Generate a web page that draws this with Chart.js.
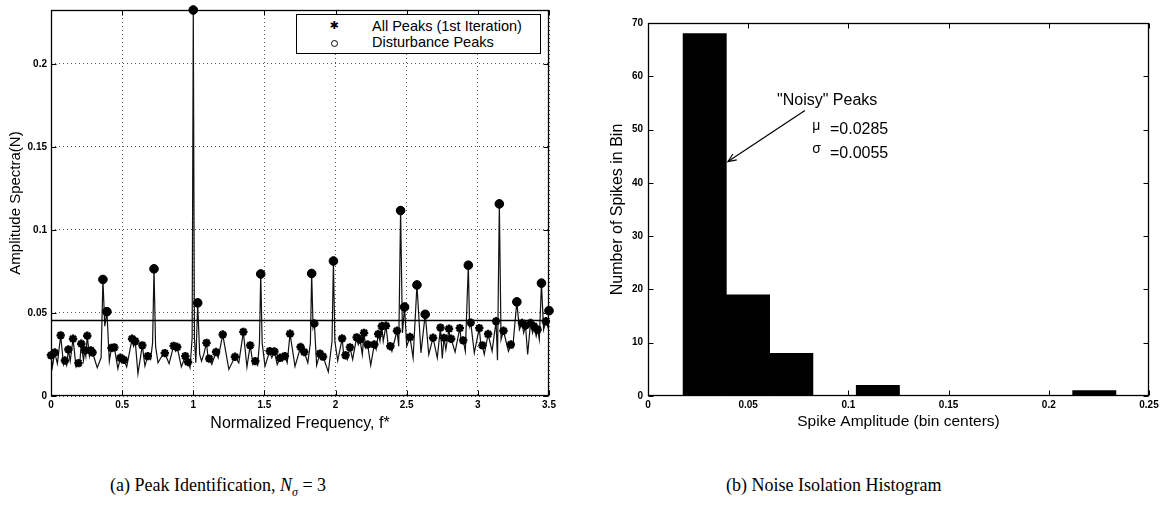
<!DOCTYPE html>
<html><head><meta charset="utf-8">
<script src="https://cdn.jsdelivr.net/npm/chart.js@4.4.0/dist/chart.umd.min.js"></script>
<style>
html,body{margin:0;padding:0;background:#fff;width:1172px;height:508px;overflow:hidden;position:relative;font-family:"Liberation Sans",Arial,sans-serif;color:#000;}
canvas{position:absolute;top:0;}
#cA{left:0}
#cB{left:590px}
.legend{position:absolute;left:296px;top:14px;width:243px;height:38px;border:1px solid #000;background:#fff;font-size:14.5px;}
.legend .row{position:absolute;left:0;width:100%;height:16px;line-height:16px;white-space:nowrap;}
.legend .sym{position:absolute;left:31px;width:12px;text-align:center;}
.legend .txt{position:absolute;left:75px;}
.star{font-family:"DejaVu Sans";font-size:11px;font-weight:bold;}
.circ{display:inline-block;width:5px;height:5px;border:1px solid #000;border-radius:50%;vertical-align:middle;}
.caption{position:absolute;top:475px;font-family:"Liberation Serif","Times New Roman",serif;font-size:18px;white-space:nowrap;}
</style>
</head><body>
<canvas id="cA" width="575" height="440"></canvas>
<canvas id="cB" width="582" height="440"></canvas>
<div class="legend">
  <div class="row" style="top:3px"><span class="sym star">&#10033;</span><span class="txt">All Peaks (1st Iteration)</span></div>
  <div class="row" style="top:19px"><span class="sym"><span class="circ"></span></span><span class="txt">Disturbance Peaks</span></div>
</div>
<div class="caption" style="left:110px">(a) Peak Identification, <i>N</i><sub style="font-size:12px"><i>σ</i></sub> = 3</div>
<div class="caption" style="left:726px">(b) Noise Isolation Histogram</div>
<script>
// ---------- data: amplitude spectrum (a) ----------
const spectrumF = [0.000,0.010,0.026,0.045,0.068,0.088,0.098,0.110,0.122,0.135,0.155,0.176,0.193,0.201,0.213,0.228,0.238,0.245,0.255,0.270,0.280,0.285,0.292,0.325,0.352,0.365,0.378,0.393,0.410,0.425,0.435,0.445,0.470,0.488,0.500,0.512,0.532,0.570,0.580,0.592,0.611,0.642,0.660,0.680,0.700,0.714,0.724,0.735,0.752,0.775,0.800,0.830,0.862,0.875,0.887,0.916,0.944,0.955,0.963,0.977,0.992,1.000,1.008,1.018,1.031,1.045,1.058,1.075,1.093,1.105,1.112,1.130,1.160,1.175,1.207,1.250,1.293,1.320,1.352,1.377,1.400,1.420,1.436,1.452,1.465,1.474,1.484,1.504,1.537,1.552,1.570,1.590,1.610,1.625,1.643,1.660,1.680,1.715,1.754,1.765,1.780,1.805,1.823,1.832,1.842,1.851,1.867,1.890,1.900,1.912,1.949,1.975,1.985,1.995,2.015,2.046,2.058,2.070,2.082,2.101,2.120,2.148,2.160,2.172,2.188,2.200,2.212,2.225,2.247,2.272,2.285,2.300,2.312,2.325,2.335,2.354,2.372,2.385,2.396,2.432,2.444,2.457,2.470,2.485,2.500,2.523,2.545,2.572,2.600,2.630,2.655,2.685,2.715,2.737,2.750,2.762,2.775,2.797,2.805,2.812,2.840,2.873,2.885,2.897,2.912,2.933,2.942,2.950,2.975,3.010,3.022,3.032,3.045,3.072,3.100,3.128,3.138,3.151,3.163,3.180,3.215,3.232,3.245,3.274,3.292,3.310,3.322,3.335,3.350,3.370,3.385,3.395,3.410,3.420,3.432,3.447,3.462,3.478,3.490,3.500];
const spectrumA = [0.0245,0.0175,0.0262,0.0195,0.0365,0.0190,0.0214,0.0185,0.0280,0.0210,0.0345,0.0175,0.0198,0.0185,0.0315,0.0215,0.0275,0.0240,0.0363,0.0240,0.0275,0.0255,0.0262,0.0170,0.0230,0.0702,0.0420,0.0508,0.0210,0.0290,0.0270,0.0293,0.0165,0.0230,0.0200,0.0218,0.0175,0.0345,0.0300,0.0330,0.0135,0.0305,0.0180,0.0240,0.0220,0.0320,0.0766,0.0300,0.0200,0.0235,0.0258,0.0195,0.0302,0.0270,0.0295,0.0175,0.0240,0.0200,0.0205,0.0170,0.0350,0.2325,0.0350,0.0200,0.0561,0.0250,0.0210,0.0255,0.0320,0.0220,0.0225,0.0190,0.0265,0.0230,0.0370,0.0160,0.0236,0.0200,0.0386,0.0175,0.0305,0.0190,0.0210,0.0185,0.0320,0.0735,0.0320,0.0180,0.0270,0.0230,0.0268,0.0190,0.0230,0.0210,0.0240,0.0200,0.0375,0.0178,0.0295,0.0250,0.0265,0.0200,0.0320,0.0738,0.0410,0.0437,0.0185,0.0255,0.0220,0.0237,0.0145,0.0330,0.0813,0.0330,0.0212,0.0346,0.0240,0.0245,0.0220,0.0293,0.0220,0.0353,0.0310,0.0340,0.0250,0.0380,0.0290,0.0310,0.0185,0.0310,0.0280,0.0373,0.0330,0.0420,0.0330,0.0423,0.0290,0.0300,0.0270,0.0393,0.0300,0.1117,0.0380,0.0536,0.0300,0.0355,0.0230,0.0669,0.0260,0.0492,0.0250,0.0351,0.0230,0.0412,0.0226,0.0350,0.0280,0.0405,0.0330,0.0345,0.0265,0.0409,0.0320,0.0335,0.0270,0.0788,0.0420,0.0442,0.0260,0.0409,0.0300,0.0305,0.0250,0.0373,0.0270,0.0450,0.0215,0.1157,0.0340,0.0393,0.0270,0.0310,0.0290,0.0567,0.0400,0.0440,0.0380,0.0425,0.0250,0.0440,0.0380,0.0420,0.0360,0.0400,0.0340,0.0680,0.0400,0.0450,0.0420,0.0514];
// all peaks found in the first iteration
const peakF = [0.000,0.026,0.068,0.098,0.122,0.155,0.193,0.213,0.238,0.255,0.280,0.292,0.365,0.393,0.425,0.445,0.488,0.512,0.570,0.592,0.642,0.680,0.724,0.800,0.862,0.887,0.944,0.963,1.000,1.031,1.093,1.112,1.160,1.207,1.293,1.352,1.400,1.436,1.474,1.537,1.570,1.610,1.643,1.680,1.754,1.780,1.832,1.851,1.890,1.912,1.985,2.046,2.070,2.101,2.148,2.172,2.200,2.225,2.272,2.300,2.325,2.354,2.385,2.432,2.457,2.485,2.523,2.572,2.630,2.685,2.737,2.762,2.797,2.812,2.873,2.897,2.933,2.950,3.010,3.032,3.072,3.128,3.151,3.180,3.232,3.274,3.310,3.335,3.370,3.395,3.420,3.447,3.478,3.500];
const peakA = [0.0245,0.0262,0.0365,0.0214,0.0280,0.0345,0.0198,0.0315,0.0275,0.0363,0.0275,0.0262,0.0702,0.0508,0.0290,0.0293,0.0230,0.0218,0.0345,0.0330,0.0305,0.0240,0.0766,0.0258,0.0302,0.0295,0.0240,0.0205,0.2325,0.0561,0.0320,0.0225,0.0265,0.0370,0.0236,0.0386,0.0305,0.0210,0.0735,0.0270,0.0268,0.0230,0.0240,0.0375,0.0295,0.0265,0.0738,0.0437,0.0255,0.0237,0.0813,0.0346,0.0245,0.0293,0.0353,0.0340,0.0380,0.0310,0.0310,0.0373,0.0420,0.0423,0.0300,0.0393,0.1117,0.0536,0.0355,0.0669,0.0492,0.0351,0.0412,0.0350,0.0405,0.0345,0.0409,0.0335,0.0788,0.0442,0.0409,0.0305,0.0373,0.0450,0.1157,0.0393,0.0310,0.0567,0.0440,0.0425,0.0440,0.0420,0.0400,0.0680,0.0450,0.0514];
// disturbance peaks (above threshold)
const disturbF = [0.365,0.393,0.724,1.000,1.031,1.474,1.832,1.985,2.457,2.485,2.572,2.630,2.933,3.151,3.274,3.447,3.500];
const disturbA = [0.0702,0.0508,0.0766,0.2325,0.0561,0.0735,0.0738,0.0813,0.1117,0.0536,0.0669,0.0492,0.0788,0.1157,0.0567,0.0680,0.0514];
const thresholdA = 0.0455;
const freqRange = [0, 3.5];

// ---------- data: noise isolation histogram (b) ----------
const binCenters = [0.0283,0.0499,0.0715,0.0931,0.1147,0.1363,0.1579,0.1795,0.2011,0.2227];
const binCounts  = [68,19,8,0,2,0,0,0,0,1];
const noiseMu = 0.0285, noiseSigma = 0.0055;

// ---------- helpers ----------
const fmt = v => { const r = parseFloat(v.toFixed(4)); return r === 0 ? '0' : String(r); };
const FONT = '"Liberation Sans", Arial, sans-serif';
Chart.defaults.font.family = FONT;
Chart.defaults.color = '#000';

const boxTicks = {
  id: 'boxTicks',
  afterDatasetsDraw(chart) {
    const {ctx, chartArea: a, scales: {x, y}} = chart;
    const L = 5;
    const l = Math.round(a.left) + 0.5, r = Math.round(a.right) - 0.5;
    const t = Math.round(a.top) + 0.5, b = Math.round(a.bottom) - 0.5;
    ctx.save();
    ctx.strokeStyle = '#000';
    ctx.lineWidth = 1;
    ctx.beginPath();
    x.ticks.forEach(tk => {
      const px = Math.round(x.getPixelForValue(tk.value)) + 0.5;
      ctx.moveTo(px, b); ctx.lineTo(px, b - L);
      ctx.moveTo(px, t); ctx.lineTo(px, t + L);
    });
    y.ticks.forEach(tk => {
      const py = Math.round(y.getPixelForValue(tk.value)) + 0.5;
      ctx.moveTo(l, py); ctx.lineTo(l + L, py);
      ctx.moveTo(r, py); ctx.lineTo(r - L, py);
    });
    ctx.stroke();
    ctx.lineWidth = 1.3;
    ctx.strokeRect(l, t, r - l, b - t);
    ctx.restore();
  }
};

const noiseNote = {
  id: 'noiseNote',
  afterDatasetsDraw(chart) {
    const {ctx, scales: {x, y}} = chart;
    const P = (vx, vy) => [x.getPixelForValue(vx), y.getPixelForValue(vy)];
    ctx.save();
    ctx.fillStyle = '#000';
    ctx.textBaseline = 'middle';
    ctx.textAlign = 'left';
    ctx.font = '16px ' + FONT;
    let p = P(0.0644, 55.4); ctx.fillText('"Noisy" Peaks', p[0], p[1]);
    ctx.font = '14px ' + FONT;
    p = P(0.0820, 50.6); ctx.fillText('μ', p[0], p[1]);
    p = P(0.0820, 46.3); ctx.fillText('σ', p[0], p[1]);
    ctx.font = '16px ' + FONT;
    p = P(0.0908, 50.0); ctx.fillText('=' + noiseMu.toFixed(4), p[0], p[1]);
    p = P(0.0908, 45.4); ctx.fillText('=' + noiseSigma.toFixed(4), p[0], p[1]);
    // arrow
    const s = P(0.0783, 53.6), e = P(0.0399, 44.0);
    ctx.strokeStyle = '#000'; ctx.lineWidth = 1.2;
    ctx.beginPath(); ctx.moveTo(s[0], s[1]); ctx.lineTo(e[0], e[1]); ctx.stroke();
    const ang = Math.atan2(s[1] - e[1], s[0] - e[0]), hl = 9, spread = 0.4;
    ctx.beginPath();
    ctx.moveTo(e[0] + hl * Math.cos(ang + spread), e[1] + hl * Math.sin(ang + spread));
    ctx.lineTo(e[0], e[1]);
    ctx.lineTo(e[0] + hl * Math.cos(ang - spread), e[1] + hl * Math.sin(ang - spread));
    ctx.stroke();
    ctx.restore();
  }
};

const tickFont = {size: 10, weight: 'bold', family: FONT};

// ---------- chart (a) ----------
new Chart(document.getElementById('cA'), {
  type: 'line',
  data: {
    datasets: [
      {label: 'All Peaks (1st Iteration)', data: peakF.map((f, i) => ({x: f, y: peakA[i]})), showLine: false,
       pointStyle: 'star', pointRadius: 4.2, borderColor: '#000', backgroundColor: '#000', pointBorderWidth: 2.4, order: 0, clip: false},
      {label: 'Disturbance Peaks', data: disturbF.map((f, i) => ({x: f, y: disturbA[i]})), showLine: false,
       pointStyle: 'circle', pointRadius: 4.3, borderColor: '#000', backgroundColor: '#000', pointBorderWidth: 1, order: 1, clip: false},
      {label: 'Threshold', data: freqRange.map(f => ({x: f, y: thresholdA})), borderColor: '#000', borderWidth: 1.4, pointRadius: 0, order: 2},
      {label: 'Spectrum', data: spectrumF.map((f, i) => ({x: f, y: spectrumA[i]})), borderColor: '#111', borderWidth: 1.2, pointRadius: 0, tension: 0, order: 3}
    ]
  },
  options: {
    responsive: false, animation: false, devicePixelRatio: 1,
    layout: {padding: {top: 6, right: 26, left: 0, bottom: 0}},
    plugins: {legend: {display: false}, tooltip: {enabled: false}},
    scales: {
      x: {type: 'linear', min: 0, max: 3.5,
          ticks: {stepSize: 0.5, autoSkip: false, maxRotation: 0, padding: 3, font: tickFont, color: '#000', includeBounds: false, callback: v => fmt(v)},
          grid: {color: '#555', lineWidth: 1, drawTicks: false},
          border: {display: false, dash: [1, 3]},
          title: {display: true, text: 'Normalized Frequency, f*', font: {size: 16, family: FONT}, color: '#000', padding: {top: 0, bottom: 7}},
          afterFit(s) { s.height = 44; }},
      y: {type: 'linear', min: 0, max: 0.2325,
          ticks: {stepSize: 0.05, padding: 4, font: tickFont, color: '#000', includeBounds: false, callback: v => fmt(v)},
          grid: {color: '#555', lineWidth: 1, drawTicks: false},
          border: {display: false, dash: [1, 3]},
          title: {display: true, text: 'Amplitude Spectra(N)', font: {size: 15, family: FONT}, color: '#000', padding: {top: 7, bottom: 0}},
          afterFit(s) { s.width = 51; }}
    }
  },
  plugins: [boxTicks]
});

// ---------- chart (b) ----------
new Chart(document.getElementById('cB'), {
  type: 'bar',
  data: {
    datasets: [{label: 'Spikes in bin', data: binCenters.map((c, i) => ({x: c, y: binCounts[i]})),
      backgroundColor: '#000', borderWidth: 0, barPercentage: 1, categoryPercentage: 1}]
  },
  options: {
    responsive: false, animation: false, devicePixelRatio: 1,
    layout: {padding: {top: 23, right: 23, left: 0, bottom: 0}},
    plugins: {legend: {display: false}, tooltip: {enabled: false}},
    scales: {
      x: {type: 'linear', min: 0, max: 0.25, offset: false,
          ticks: {stepSize: 0.05, autoSkip: false, maxRotation: 0, padding: 3, font: tickFont, color: '#000', includeBounds: false, callback: v => fmt(v)},
          grid: {display: false, drawTicks: false},
          border: {display: false},
          title: {display: true, text: 'Spike Amplitude (bin centers)', font: {size: 15.5, family: FONT}, color: '#000', padding: {top: 0, bottom: 9}},
          afterFit(s) { s.height = 44; }},
      y: {type: 'linear', min: 0, max: 70,
          ticks: {stepSize: 10, padding: 5, font: tickFont, color: '#000', includeBounds: false},
          grid: {display: false, drawTicks: false},
          border: {display: false},
          title: {display: true, text: 'Number of Spikes in Bin', font: {size: 16, family: FONT}, color: '#000', padding: {top: 18, bottom: 0}},
          afterFit(s) { s.width = 58; }}
    }
  },
  plugins: [boxTicks, noiseNote]
});
</script>
</body></html>
